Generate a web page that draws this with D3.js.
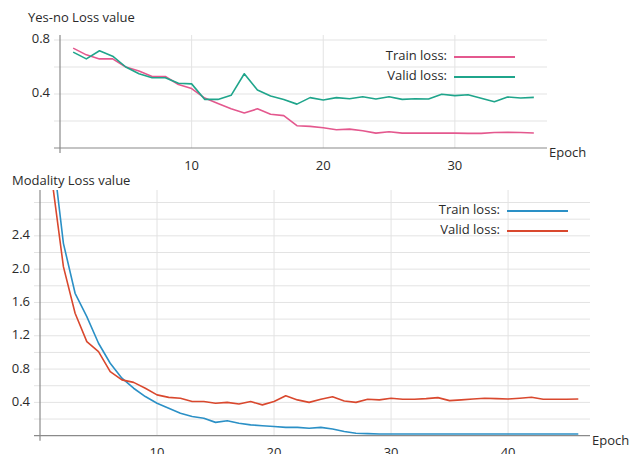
<!DOCTYPE html>
<html>
  <head>
    <style>
      body { margin: 0; background: #fff; }
      text { font-family: "Open Sans", sans-serif; fill: #2a2a2a; }
    </style>
  </head>
  <body>
    <script src="https://d3js.org/d3.v7.min.js"></script>
    <script>
      // Yes-no loss per epoch (1..36)
      const yesnoTrain = [0.74, 0.69, 0.66, 0.66, 0.60, 0.57, 0.53, 0.53, 0.47, 0.44,
        0.37, 0.33, 0.29, 0.26, 0.29, 0.25, 0.24, 0.165, 0.16, 0.15,
        0.135, 0.14, 0.128, 0.11, 0.12, 0.11, 0.11, 0.11, 0.11, 0.11,
        0.108, 0.108, 0.115, 0.116, 0.115, 0.111];
      const yesnoValid = [0.71, 0.66, 0.72, 0.68, 0.60, 0.55, 0.52, 0.52, 0.48, 0.475,
        0.36, 0.36, 0.39, 0.55, 0.43, 0.385, 0.36, 0.325, 0.373, 0.356,
        0.373, 0.365, 0.38, 0.363, 0.38, 0.36, 0.365, 0.363, 0.398, 0.388,
        0.395, 0.368, 0.343, 0.378, 0.37, 0.375];
      // Modality loss per epoch (1..46)
      const modTrain = [3.5, 2.31, 1.71, 1.43, 1.11, 0.87, 0.69, 0.57, 0.47, 0.39,
        0.33, 0.27, 0.23, 0.21, 0.16, 0.18, 0.15, 0.13, 0.12, 0.11,
        0.10, 0.10, 0.09, 0.10, 0.08, 0.05, 0.03, 0.025, 0.02, 0.02,
        0.02, 0.02, 0.02, 0.02, 0.02, 0.02, 0.02, 0.02, 0.02, 0.02,
        0.02, 0.02, 0.02, 0.02, 0.02, 0.02];
      const modValid = [3.1, 2.03, 1.47, 1.13, 1.01, 0.77, 0.67, 0.64, 0.57, 0.49,
        0.46, 0.45, 0.41, 0.41, 0.39, 0.40, 0.38, 0.41, 0.37, 0.41,
        0.48, 0.43, 0.40, 0.437, 0.468, 0.416, 0.40, 0.437, 0.43, 0.45,
        0.437, 0.437, 0.445, 0.457, 0.421, 0.43, 0.441, 0.45, 0.445, 0.441,
        0.45, 0.461, 0.437, 0.437, 0.437, 0.441];
      const seriesNames = ["Train loss:", "Valid loss:"];
      const yesnoTicks = [0.4, 0.8];
      const modTicks = [0.4, 0.8, 1.2, 1.6, 2.0, 2.4];

      const svg = d3.select("body").append("svg")
        .attr("width", 633)
        .attr("height", 454);

      function panel(opts) {
        const g = svg.append("g");
        const x = d3.scaleLinear().domain(opts.xDomain).range(opts.xRange);
        const y = d3.scaleLinear().domain(opts.yDomain).range(opts.yRange);
        const x0 = opts.xRange[0], x1 = opts.xRange[1];
        const yBottom = opts.yRange[0];

        // horizontal grid
        g.selectAll(".hg").data(opts.grid).join("line")
          .attr("x1", x0 - 6).attr("x2", x1)
          .attr("y1", d => y(d)).attr("y2", d => y(d))
          .attr("stroke", "#e3e3e3").attr("stroke-width", 1);
        // vertical grid
        g.selectAll(".vg").data(opts.xTicks).join("line")
          .attr("x1", d => x(d)).attr("x2", d => x(d))
          .attr("y1", opts.axisTop).attr("y2", yBottom)
          .attr("stroke", "#e3e3e3").attr("stroke-width", 1);

        // axes
        g.append("line").attr("x1", x0).attr("x2", x0)
          .attr("y1", opts.axisTop).attr("y2", yBottom + 5)
          .attr("stroke", "#8a8a8a").attr("stroke-width", 1.2);
        g.append("line").attr("x1", x0 - 6).attr("x2", x1)
          .attr("y1", yBottom).attr("y2", yBottom)
          .attr("stroke", "#8a8a8a").attr("stroke-width", 1.2);

        // tick labels
        g.selectAll(".yl").data(opts.yTicks).join("text")
          .attr("x", x0 - 10).attr("y", d => y(d))
          .attr("text-anchor", "end").attr("dominant-baseline", "middle")
          .style("font-size", "13px")
          .text(d => d.toFixed(1));
        g.selectAll(".xl").data(opts.xTicks).join("text")
          .attr("x", d => x(d)).attr("y", opts.xLabelY)
          .attr("text-anchor", "middle")
          .style("font-size", "13px")
          .text(d => d);

        g.append("text").attr("x", x1 + 2).attr("y", yBottom + 9)
          .style("font-size", "13px").text("Epoch");
        g.append("text").attr("x", opts.titleX).attr("y", opts.titleY)
          .style("font-size", "13px").text(opts.title);

        // clipped lines
        const clipId = "clip" + opts.id;
        svg.append("clipPath").attr("id", clipId).append("rect")
          .attr("x", x0).attr("y", opts.axisTop)
          .attr("width", x1 - x0).attr("height", yBottom - opts.axisTop);
        const line = d3.line().x((d, i) => x(i + 1)).y(d => y(d));
        opts.series.forEach((s, k) => {
          g.append("path").datum(s)
            .attr("clip-path", "url(#" + clipId + ")")
            .attr("fill", "none")
            .attr("stroke", opts.colors[k])
            .attr("stroke-width", 1.6)
            .attr("stroke-linejoin", "round")
            .attr("d", line);
        });

        // legend
        seriesNames.forEach((name, k) => {
          const ly = opts.legendY + k * opts.legendGap;
          g.append("text").attr("x", opts.legendX).attr("y", ly)
            .attr("text-anchor", "end").attr("dominant-baseline", "middle")
            .style("font-size", "13px").text(name);
          g.append("line").attr("x1", opts.legendX + 7).attr("x2", opts.legendX + 68)
            .attr("y1", ly).attr("y2", ly)
            .attr("stroke", opts.colors[k]).attr("stroke-width", 2);
        });
      }

      panel({
        id: "a", title: "Yes-no Loss value", titleX: 28, titleY: 22,
        xDomain: [0, 37], xRange: [60, 547],
        yDomain: [0, 0.8], yRange: [148, 40], axisTop: 35,
        grid: [0.2, 0.4, 0.6, 0.8], yTicks: yesnoTicks, xTicks: [10, 20, 30],
        xLabelY: 170,
        series: [yesnoTrain, yesnoValid], colors: ["#e4588e", "#1fa58b"],
        legendX: 447, legendY: 57, legendGap: 20
      });

      panel({
        id: "b", title: "Modality Loss value", titleX: 12, titleY: 185,
        xDomain: [0, 47], xRange: [40, 590],
        yDomain: [0, 2.8], yRange: [435.7, 202.5], axisTop: 190,
        grid: d3.range(1, 15).map(i => i * 0.2), yTicks: modTicks, xTicks: [10, 20, 30, 40],
        xLabelY: 457,
        series: [modTrain, modValid], colors: ["#2b90c6", "#d9482e"],
        legendX: 500, legendY: 211, legendGap: 20
      });
    </script>
  </body>
</html>
